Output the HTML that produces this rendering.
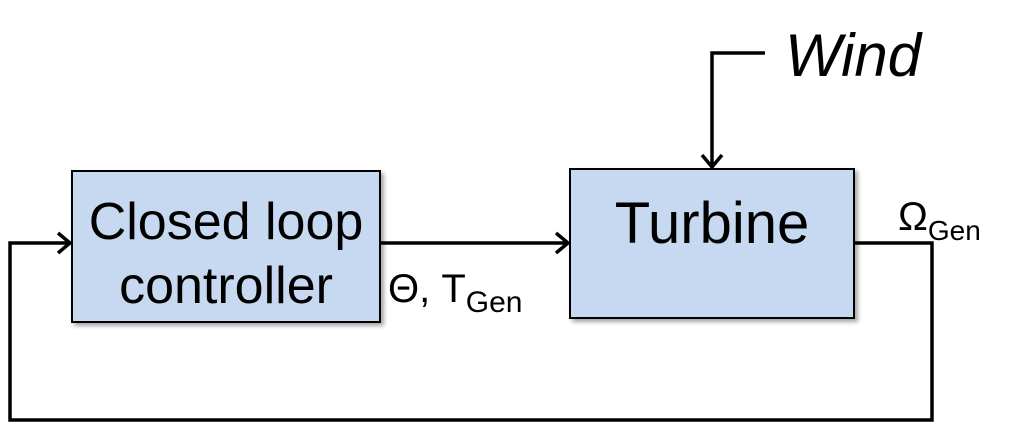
<!DOCTYPE html>
<html><head><style>
body{margin:0;background:#fff;}
svg{display:block;}
text{font-family:"Liberation Sans",sans-serif;fill:#000;}
</style></head><body>
<svg width="1028" height="434" viewBox="0 0 1028 434">
<defs><filter id="s" x="-10%" y="-10%" width="130%" height="130%"><feDropShadow dx="3" dy="3" stdDeviation="2" flood-color="#000" flood-opacity="0.35"/></filter></defs>
<rect x="72" y="171" width="308" height="151" fill="#c6d9f0" stroke="#000" stroke-width="2" filter="url(#s)"/>
<rect x="570" y="169" width="284" height="149" fill="#c6d9f0" stroke="#000" stroke-width="2" filter="url(#s)"/>
<g stroke="#000" stroke-width="3.5" fill="none">
<polyline points="854,243 932,243 932,420 10,420 10,243 70,243"/>
<polyline points="58,233 70,243 58,253"/>
<line x1="380" y1="243" x2="568" y2="243"/>
<polyline points="556,233 568,243 556,253"/>
<polyline points="765,53 712,53 712,167"/>
<polyline points="702,155 712,167 722,155"/>
</g>
<text x="226" y="239" font-size="52" text-anchor="middle">Closed loop</text>
<text x="226" y="303" font-size="52" text-anchor="middle">controller</text>
<text x="712" y="243" font-size="58" text-anchor="middle">Turbine</text>
<text x="785" y="76" font-size="60" font-style="italic">Wind</text>
<text x="388" y="302" font-size="40">Θ, T<tspan font-size="30" dy="10">Gen</tspan></text>
<text x="898" y="230" font-size="40">Ω<tspan font-size="28" dy="10">Gen</tspan></text>
</svg>
</body></html>
